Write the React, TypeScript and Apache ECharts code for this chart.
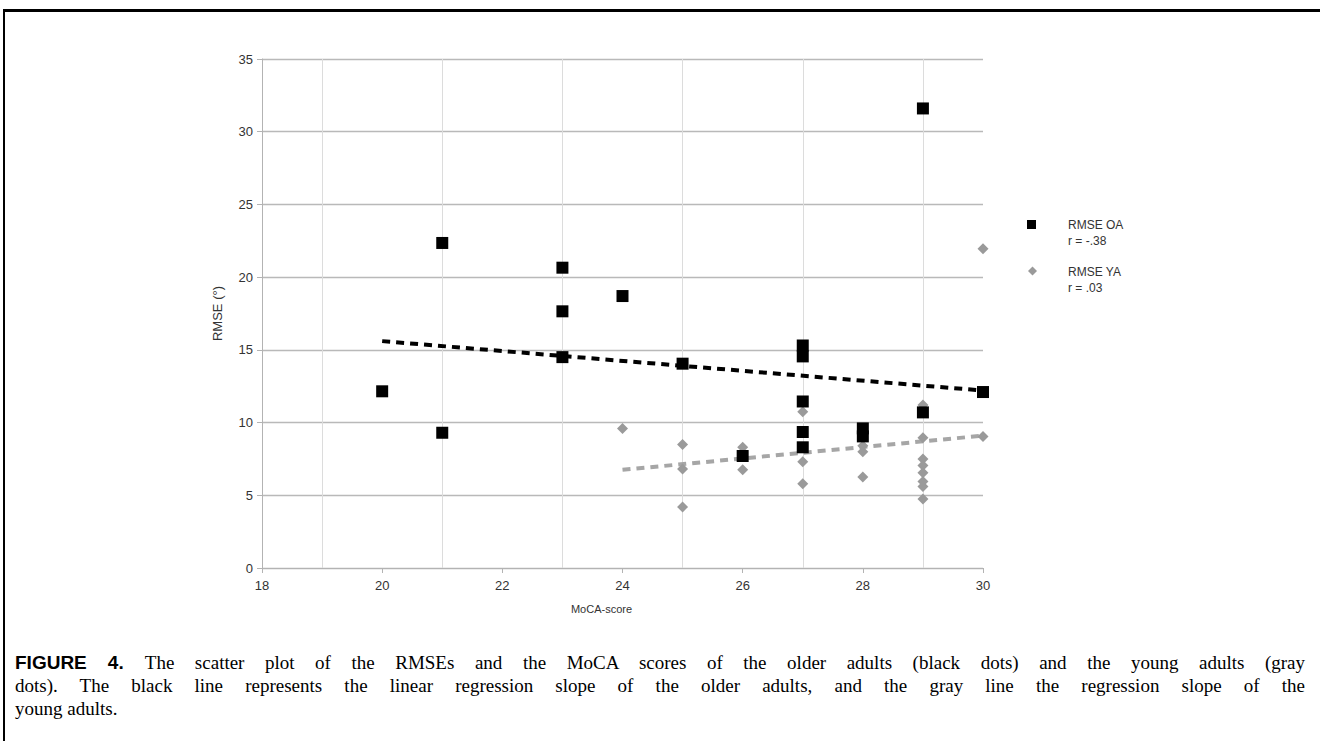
import React, { useEffect, useRef } from "react";
import * as echarts from "echarts";

// MoCA scores and RMSE values (degrees)
const oaX = [20, 21, 21, 23, 23, 23, 24, 25, 26, 27, 27, 27, 27, 27, 28, 28, 29, 29, 30];
const oaY = [12.15, 22.35, 9.3, 20.65, 17.65, 14.5, 18.7, 14.05, 7.7, 15.3, 14.55, 11.45, 9.35, 8.3, 9.6, 9.05, 31.6, 10.7, 12.1];
const yaX = [24, 25, 25, 25, 26, 26, 27, 27, 27, 28, 28, 28, 29, 29, 29, 29, 29, 29, 29, 29, 30, 30];
const yaY = [9.6, 8.5, 6.8, 4.2, 8.3, 6.75, 10.75, 7.3, 5.8, 8.4, 8.0, 6.25, 11.2, 8.95, 7.5, 7.05, 6.55, 5.95, 5.6, 4.75, 9.05, 21.95];
// regression line end points
const oaTrendX = [20, 30];
const oaTrendY = [15.6, 12.2];
const yaTrendX = [24, 30];
const yaTrendY = [6.75, 9.1];

const xTicks = [18, 20, 22, 24, 26, 28, 30];
const yTicks = [0, 5, 10, 15, 20, 25, 30, 35];

const legendOA = ["RMSE OA", "r = -.38"];
const legendYA = ["RMSE YA", "r = .03"];

const captionLines = [
  "The scatter plot of the RMSEs and the MoCA scores of the older adults (black dots) and the young adults (gray",
  "dots). The black line represents the linear regression slope of the older adults, and the gray line the regression slope of the",
  "young adults.",
];

const zip = (xs: number[], ys: number[]) => xs.map((x, i) => [x, ys[i]]);

export default function App() {
  const ref = useRef<HTMLDivElement>(null);
  useEffect(() => {
    if (!ref.current) return;
    const chart = echarts.init(ref.current, null, { renderer: "svg" });
    const font = "'Liberation Sans', Arial, sans-serif";
    chart.setOption({
      animation: false,
      backgroundColor: "transparent",
      grid: { left: 262, top: 59, right: 337, bottom: 173, containLabel: false, outerBoundsMode: "none" },
      xAxis: {
        type: "value",
        min: xTicks[0],
        max: xTicks[xTicks.length - 1],
        interval: 2,
        name: "MoCA-score",
        nameLocation: "middle",
        nameGap: 35,
        nameTextStyle: { fontFamily: font, fontSize: 11, color: "#333", padding: [0, 42, 0, 0] },
        axisLine: { show: true, lineStyle: { color: "#b3b3b3", width: 1 } },
        axisTick: { show: true, length: 5, lineStyle: { color: "#b3b3b3" } },
        axisLabel: { fontFamily: font, fontSize: 13, color: "#333", margin: 11 },
        splitLine: { show: false },
        minorTick: { show: false, splitNumber: 2 },
        minorSplitLine: { show: true, lineStyle: { color: "#dcdcdc", width: 1 } },
      },
      yAxis: {
        type: "value",
        min: yTicks[0],
        max: yTicks[yTicks.length - 1],
        interval: 5,
        name: "RMSE (°)",
        nameLocation: "middle",
        nameGap: 38,
        nameTextStyle: { fontFamily: font, fontSize: 13, color: "#333" },
        axisLine: { show: true, lineStyle: { color: "#b3b3b3", width: 1 } },
        axisTick: { show: true, length: 5, lineStyle: { color: "#b3b3b3" } },
        axisLabel: { fontFamily: font, fontSize: 13, color: "#333", margin: 9 },
        splitLine: { show: true, lineStyle: { color: "#b9b9b9", width: 1.3 } },
      },
      series: [
        {
          name: "YA trend",
          type: "line",
          data: zip(yaTrendX, yaTrendY),
          symbol: "none",
          z: 2,
          lineStyle: { color: "#a6a6a6", width: 4, type: [8, 6] },
        },
        {
          name: "OA trend",
          type: "line",
          data: zip(oaTrendX, oaTrendY),
          symbol: "none",
          z: 2,
          lineStyle: { color: "#000", width: 4, type: [8, 6] },
        },
        {
          name: "RMSE YA",
          type: "scatter",
          data: zip(yaX, yaY),
          symbol: "diamond",
          symbolSize: 11,
          z: 3,
          itemStyle: { color: "#9a9a9a", opacity: 1 },
        },
        {
          name: "RMSE OA",
          type: "scatter",
          data: zip(oaX, oaY),
          symbol: "rect",
          symbolSize: 12,
          z: 4,
          itemStyle: { color: "#000", opacity: 1 },
        },
      ],
      graphic: [
        { type: "rect", shape: { x: 1027, y: 220, width: 9, height: 9 }, style: { fill: "#000" } },
        {
          type: "text",
          x: 1068,
          y: 217,
          style: { text: legendOA.join("\n"), font: `12px ${font}`, fill: "#333", lineHeight: 16 },
        },
        {
          type: "polygon",
          shape: { points: [[1032.5, 266.5], [1037, 271], [1032.5, 275.5], [1028, 271]] },
          style: { fill: "#9a9a9a" },
        },
        {
          type: "text",
          x: 1068,
          y: 264,
          style: { text: legendYA.join("\n"), font: `12px ${font}`, fill: "#333", lineHeight: 16 },
        },
      ],
    });
    return () => chart.dispose();
  }, []);

  const lineWidth = 1290;
  return (
    <div style={{ position: "absolute", left: 0, top: 0, width: 1320, height: 741, background: "#fff", overflow: "hidden" }}>
      <div
        style={{
          position: "absolute",
          left: 3,
          top: 9,
          width: 1317,
          height: 732,
          borderTop: "3px solid #000",
          borderLeft: "2px solid #000",
          boxSizing: "border-box",
        }}
      />
      <div ref={ref} style={{ position: "absolute", left: 0, top: 0, width: 1320, height: 741 }} />
      <div style={{ position: "absolute", left: 15, top: 651, width: lineWidth }}>
        {captionLines.map((line, i) => (
          <div
            key={i}
            style={{
              width: lineWidth,
              fontFamily: "'Liberation Serif', 'Times New Roman', serif",
              fontSize: 19,
              lineHeight: "23px",
              height: 23,
              whiteSpace: "nowrap",
              textAlign: i < captionLines.length - 1 ? "justify" : "left",
              textAlignLast: i < captionLines.length - 1 ? "justify" : "left",
              color: "#000",
            }}
          >
            {i === 0 && (
              <span style={{ fontFamily: "'Liberation Sans', Arial, sans-serif", fontWeight: "bold", fontSize: 19 }}>
                FIGURE 4.{" "}
              </span>
            )}
            {line}
          </div>
        ))}
      </div>
    </div>
  );
}
